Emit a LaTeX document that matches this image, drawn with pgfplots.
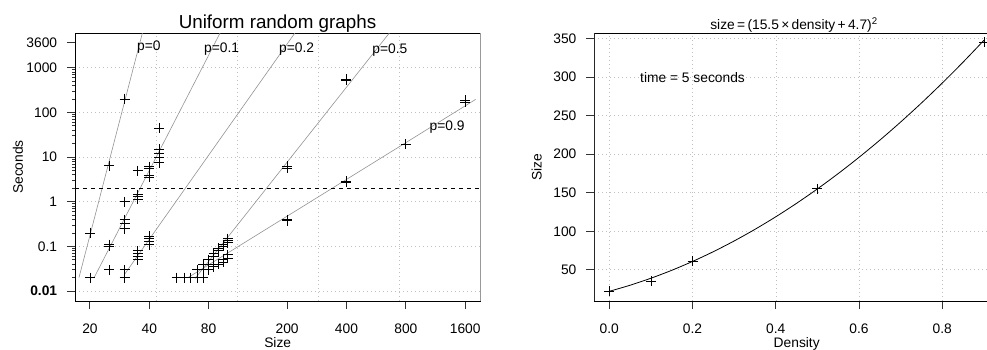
\documentclass[border=0pt]{standalone}
\usepackage{pgfplots}
\pgfplotsset{compat=1.18}
\usepackage{fontspec}
\setmainfont{Liberation Sans}
\begin{document}
\begin{tikzpicture}[x=1pt,y=1pt]
\pgfplotsset{
  rstyle/.style={
    scale only axis,
    font=\fontsize{13.8}{16}\selectfont,
    /pgf/number format/assume math mode=true,
    tick align=outside,
    major tick length=8pt,
    minor tick num=0,
    xtick pos=left, ytick pos=left,
    tick style={black!80, line width=0.9pt},
    axis line style={black, line width=0.8pt},
    xticklabel style={anchor=base, inner sep=0pt, yshift=-24.3pt},
    yticklabel style={anchor=east, inner sep=0pt, xshift=-9.7pt},
    grid style={black!25, line width=0.6pt, dash pattern=on 1pt off 3pt},
  }
}
% ---------------- left panel ----------------
\begin{axis}[rstyle,
  at={(75pt,48pt)}, anchor=south west, width=405pt, height=268pt,
  xmode=log, ymode=log,
  xmin=16.8, xmax=1902, ymin=0.006, ymax=6000,
  xtick={20,40,80,200,400,800,1600},
  xticklabels={20,40,80,200,400,800,1600},
  ytick={0.01,0.1,1,10,100,1000},
  yticklabels={\textbf{0.01},0.1,1,10,100,1000},
  ymajorgrids,
  extra y ticks={3600}, extra y tick labels={3600},
  extra y tick style={grid=none},
  extra x ticks={43.2,111.5,287.4,740.7},
  extra x tick style={grid=major, xticklabel={}, major tick length=0pt},
]
% fitted lines
\addplot[gray!85, line width=0.6pt] coordinates {(17.6,0.02) (36.9,6000)};
\addplot[gray!85, line width=0.6pt] coordinates {(21.0,0.02) (91.4,6000)};
\addplot[gray!85, line width=0.6pt] coordinates {(30.1,0.0244) (219,6000)};
\addplot[gray!85, line width=0.6pt] coordinates {(68.3,0.0192) (660,6000)};
\addplot[gray!85, line width=0.6pt] coordinates {(62.8,0.02) (1808,196)};
% threshold
\addplot[black, line width=0.7pt, dash pattern=on 4pt off 4pt] coordinates {(16.8,2) (1902,2)};
% p = 0
\addplot[only marks, mark=+, mark size=5pt, black, line width=0.8pt] coordinates {
(20,0.2) (25,6.4) (30,200)};
% p = 0.1
\addplot[only marks, mark=+, mark size=5pt, black, line width=0.8pt] coordinates {
(20,0.02) (25,0.1) (25,0.11) (30,1.0) (30,0.4) (30,0.33) (30,0.25)
(35,5.0) (35,1.45) (35,1.3) (35,1.15) (40,6.1) (40,5.6) (40,3.8) (40,3.5)
(45,45) (45,15) (45,12) (45,10) (45,7.5)};
% p = 0.2
\addplot[only marks, mark=+, mark size=5pt, black, line width=0.8pt] coordinates {
(25,0.03) (30,0.03) (30,0.02) (35,0.08) (35,0.07) (35,0.06) (35,0.05)
(40,0.17) (40,0.15) (40,0.13) (40,0.11)};
% p = 0.5
\addplot[only marks, mark=+, mark size=5pt, black, line width=0.8pt] coordinates {
(70,0.03) (75,0.03) (75,0.04) (80,0.04) (80,0.05) (85,0.06) (85,0.07)
(90,0.08) (90,0.09) (95,0.1) (95,0.11) (100,0.12) (100,0.14) (100,0.15)
(200,6.3) (200,5.7) (400,560) (400,530)};
% p = 0.9
\addplot[only marks, mark=+, mark size=5pt, black, line width=0.8pt] coordinates {
(55,0.02) (60,0.02) (65,0.02) (70,0.02) (75,0.02) (80,0.03) (85,0.035)
(85,0.04) (90,0.04) (95,0.045) (95,0.05) (100,0.055) (100,0.065)
(200,0.4) (200,0.38) (400,2.7) (400,2.9) (800,19.5) (1600,170) (1600,185)};
\node[anchor=west, inner sep=0pt] at (axis cs:34.6,2966) {p=0};
\node[anchor=west, inner sep=0pt] at (axis cs:75.8,2681) {p=0.1};
\node[anchor=west, inner sep=0pt] at (axis cs:182,2681) {p=0.2};
\node[anchor=west, inner sep=0pt] at (axis cs:540,2543) {p=0.5};
\node[anchor=west, inner sep=0pt] at (axis cs:1054,46.6) {p=0.9};
\end{axis}
\draw[gray!80, line width=0.8pt] (480,48) -- (480,316);
\node[anchor=base, inner sep=0pt, font=\fontsize{18.8}{22}\selectfont] at (277.5,320) {Uniform random graphs};
\node[anchor=base, inner sep=0pt, font=\fontsize{13.8}{16}\selectfont] at (277.7,1.2) {Size};
\node[anchor=base, inner sep=0pt, rotate=90, font=\fontsize{13.8}{16}\selectfont] at (23,182) {Seconds};
% ---------------- right panel ----------------
\begin{axis}[rstyle,
  at={(594.3pt,48pt)}, anchor=south west, width=404.6pt, height=268pt,
  xmin=-0.036, xmax=0.936, ymin=9.5, ymax=357.3,
  xtick={0,0.2,0.4,0.6,0.8},
  xticklabels={0.0,0.2,0.4,0.6,0.8},
  ytick={50,100,150,200,250,300,350},
  grid=major,
]
\addplot[black, line width=0.8pt, smooth] coordinates {
(0,22.09) (0.05,29.98) (0.1,39.06) (0.15,49.35) (0.2,60.84) (0.25,73.53)
(0.3,87.42) (0.35,102.52) (0.4,118.81) (0.45,136.31) (0.5,155.00)
(0.55,174.90) (0.6,196.00) (0.65,218.30) (0.7,241.80) (0.75,266.51)
(0.8,292.41) (0.85,319.52) (0.9,347.82)};
\addplot[only marks, mark=+, mark size=5pt, black, line width=0.8pt] coordinates {
(0,22) (0.1,35) (0.2,61) (0.5,155) (0.9,345)};
\node[inner sep=0pt] at (axis cs:0.2,300) {time = 5 seconds};
\end{axis}
\draw[black!85, line width=1.5pt] (594.3,48) -- (594.3,316);
\node[anchor=base, inner sep=0pt, font=\fontsize{13.8}{16}\selectfont] at (794,319.7) {size\,=\,(15.5\,×\,density\,+\,4.7)\textsuperscript{2}};
\node[anchor=base, inner sep=0pt, font=\fontsize{13.8}{16}\selectfont] at (796.7,1.2) {Density};
\node[anchor=base, inner sep=0pt, rotate=90, font=\fontsize{13.8}{16}\selectfont] at (541.7,182) {Size};
\pgfresetboundingbox
\path[use as bounding box] (0,0) rectangle (987,349);
\end{tikzpicture}
\end{document}
